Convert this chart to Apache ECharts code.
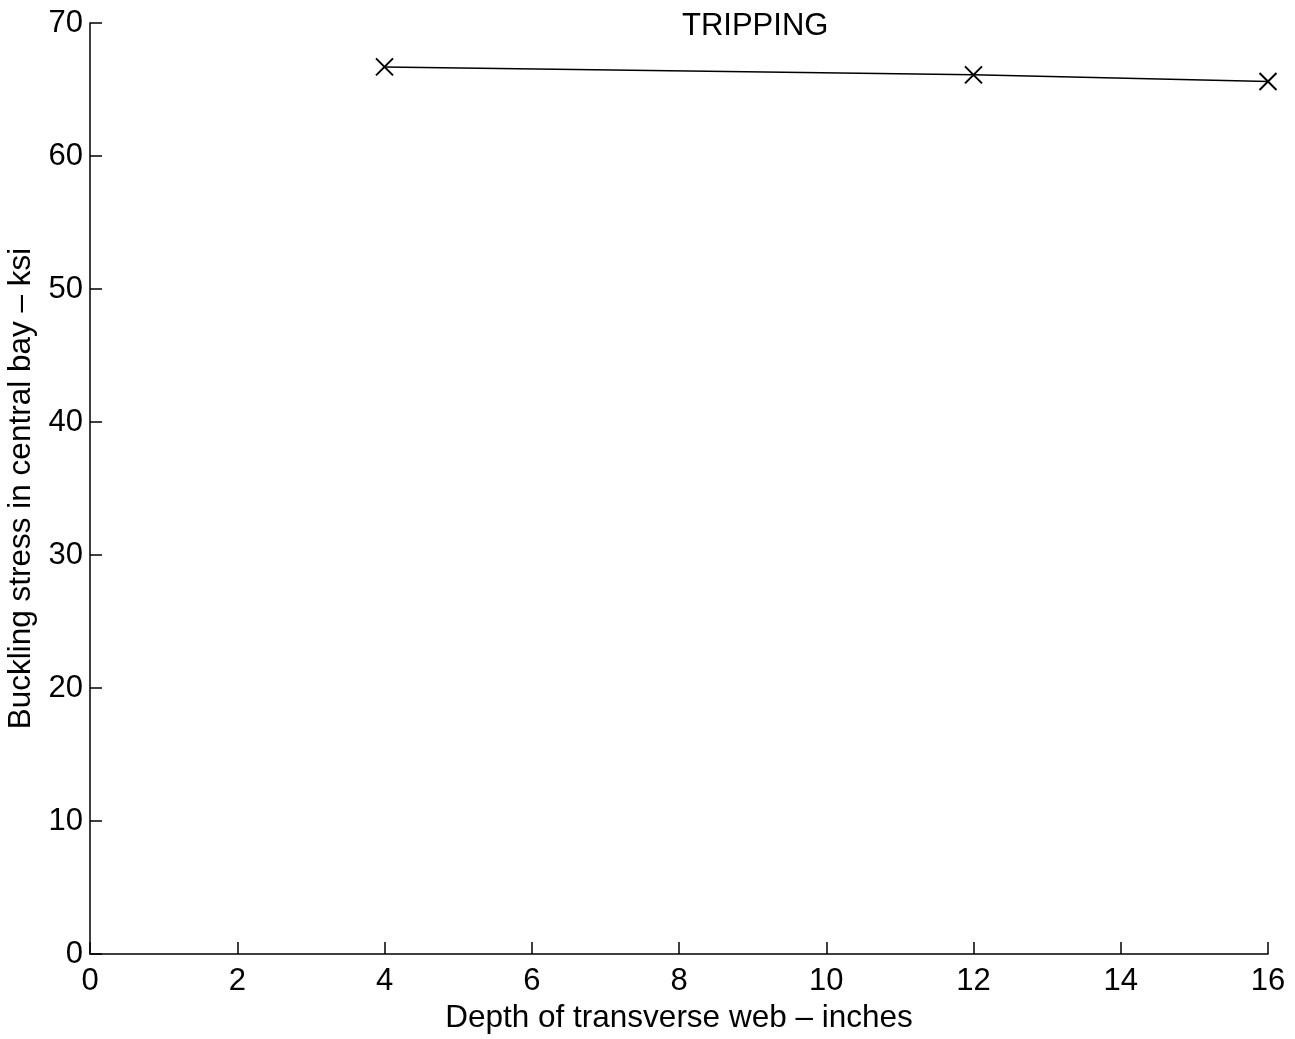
<!DOCTYPE html>
<html>
<head>
<meta charset="utf-8">
<script src="https://cdn.jsdelivr.net/npm/echarts@6/dist/echarts.min.js"></script>
<style>
  html, body { margin: 0; padding: 0; background: #fff; }
  #chart { width: 1295px; height: 1039px; }
</style>
</head>
<body>
<div id="chart"></div>
<script>
// Web depth (inches) vs. tripping buckling stress (ksi)
const webDepth = [4, 12, 16];
const bucklingStress = [66.7, 66.1, 65.6];
const xTicks = [0, 2, 4, 6, 8, 10, 12, 14, 16];
const yTicks = [0, 10, 20, 30, 40, 50, 60, 70];

const FONT = '"Liberation Sans", Arial, Helvetica, sans-serif';
const FS = 31;
const NAME_FS = 31.5;
const chart = echarts.init(document.getElementById('chart'));

chart.setOption({
  backgroundColor: '#ffffff',
  animation: false,
  title: {
    text: 'TRIPPING',
    left: 677,
    top: 6,
    textStyle: { fontFamily: FONT, fontSize: FS, fontWeight: 'normal', color: '#000' }
  },
  grid: {
    left: 90, right: 27, top: 23, bottom: 85,
    containLabel: false,
    outerBoundsMode: 'none'
  },
  xAxis: {
    type: 'value',
    min: xTicks[0],
    max: xTicks[xTicks.length - 1],
    interval: 2,
    name: 'Depth of transverse web \u2013 inches',
    nameLocation: 'middle',
    nameGap: 48,
    nameTextStyle: { fontFamily: FONT, fontSize: NAME_FS, color: '#000' },
    axisLine: { show: true, lineStyle: { color: '#000', width: 1.5 } },
    axisTick: { show: true, inside: true, length: 12, lineStyle: { color: '#000', width: 1.5 } },
    axisLabel: { fontFamily: FONT, fontSize: FS, color: '#000', margin: 12 },
    splitLine: { show: false }
  },
  yAxis: {
    type: 'value',
    min: yTicks[0],
    max: yTicks[yTicks.length - 1],
    interval: 10,
    name: 'Buckling stress in central bay \u2013 ksi',
    nameLocation: 'middle',
    nameGap: 52,
    nameTextStyle: { fontFamily: FONT, fontSize: NAME_FS, color: '#000' },
    axisLine: { show: true, lineStyle: { color: '#000', width: 1.5 } },
    axisTick: { show: true, inside: true, length: 12, lineStyle: { color: '#000', width: 1.5 } },
    axisLabel: { fontFamily: FONT, fontSize: FS, color: '#000', margin: 7 },
    splitLine: { show: false }
  },
  series: [{
    type: 'line',
    data: webDepth.map((d, i) => [d, bucklingStress[i]]),
    lineStyle: { color: '#000', width: 1.5 },
    symbol: 'path://M0,0L10,10M10,0L0,10',
    symbolSize: 17,
    showAllSymbol: true,
    itemStyle: { color: 'none', borderColor: '#000', borderWidth: 2 },
    emphasis: { disabled: true }
  }]
});
</script>
</body>
</html>
